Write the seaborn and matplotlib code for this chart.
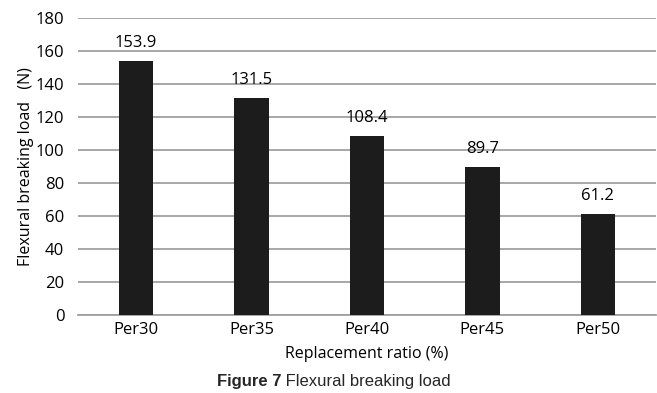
import matplotlib
matplotlib.use("Agg")
import matplotlib.pyplot as plt
import seaborn as sns
import pandas as pd

categories = ["Per30", "Per35", "Per40", "Per45", "Per50"]
loads = [153.9, 131.5, 108.4, 89.7, 61.2]
y_ticks = [0, 20, 40, 60, 80, 100, 120, 140, 160, 180]

sns.set_theme(style="white")
plt.rcParams["font.family"] = ["Open Sans", "DejaVu Sans"]

df = pd.DataFrame({"ratio": categories, "load": loads})

fig = plt.figure(figsize=(6.57, 3.93), dpi=100)
ax = fig.add_axes([0.119, 0.198, 0.879, 0.756])

sns.barplot(data=df, x="ratio", y="load", color="#1c1c1c", width=0.3,
            saturation=1, linewidth=0, ax=ax, zorder=3)

ax.set_ylim(0, 180)
ax.set_yticks(y_ticks)
ax.yaxis.grid(True, color="#a0a0a0", linewidth=1.3, zorder=0)
for s in ["top", "right", "left"]:
    ax.spines[s].set_visible(False)
ax.spines["bottom"].set_color("#a0a0a0")
ax.spines["bottom"].set_linewidth(1.3)
ax.tick_params(axis="both", length=0, labelsize=12, colors="black")
ax.tick_params(axis="y", pad=10)
ax.tick_params(axis="x", pad=5)

for i, v in enumerate(loads):
    ax.text(i, v + 6, f"{v}", ha="center", va="bottom", fontsize=12,
            color="black")

ax.set_xlabel("Replacement ratio (%)", fontsize=11.5, labelpad=6, color="black")
ax.set_ylabel("Flexural breaking load   (N)", fontsize=11.5, labelpad=1,
              color="black")
ax.set_xlim(-0.5, 4.5)

cap_font = ["Liberation Sans Narrow", "Liberation Sans"]
fig.text(0.428, 0.03, "Figure 7", ha="right", va="center", fontsize=12,
         fontweight="bold", family=cap_font)
fig.text(0.428, 0.03, " Flexural breaking load", ha="left", va="center",
         fontsize=12, family=cap_font)

fig.savefig("out.png", dpi=100)
